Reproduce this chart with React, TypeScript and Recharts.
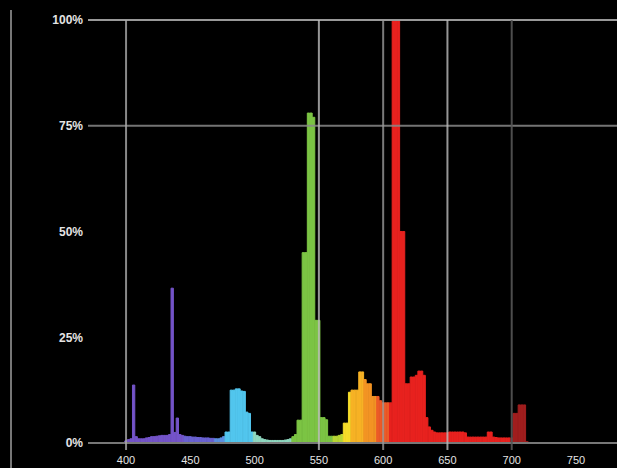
import { BarChart, Bar, Cell, XAxis, YAxis, ReferenceLine } from 'recharts'

// wavelength bins (nm)
const wavelengths = [
  400, 402, 404, 406, 408, 410, 412, 414, 416, 418,
  420, 422, 424, 426, 428, 430, 432, 434, 436, 438,
  440, 442, 444, 446, 448, 450, 452, 454, 456, 458,
  460, 462, 464, 466, 468, 470, 472, 474, 476, 478,
  480, 482, 484, 486, 488, 490, 492, 494, 496, 498,
  500, 502, 504, 506, 508, 510, 512, 514, 516, 518,
  520, 522, 524, 526, 528, 530, 532, 534, 536, 538,
  540, 542, 544, 546, 548, 550, 552, 554, 556, 558,
  560, 562, 564, 566, 568, 570, 572, 574, 576, 578,
  580, 582, 584, 586, 588, 590, 592, 594, 596, 598,
  600, 602, 604, 606, 608, 610, 612, 614, 616, 618,
  620, 622, 624, 626, 628, 630, 632, 634, 636, 638,
  640, 642, 644, 646, 648, 650, 652, 654, 656, 658,
  660, 662, 664, 666, 668, 670, 672, 674, 676, 678,
  680, 682, 684, 686, 688, 690, 692, 694, 696, 698,
  700, 702, 704, 706, 708, 710, 712,
]

// relative intensity (%)
const intensity = [
  0.5, 0.8, 1.0, 13.7, 1.5, 1.0, 1.0, 1.0, 1.2, 1.3,
  1.5, 1.5, 1.6, 1.7, 1.8, 1.8, 1.8, 2.0, 36.6, 2.5,
  5.9, 2.0, 1.8, 1.6, 1.5, 1.5, 1.4, 1.4, 1.3, 1.3,
  1.2, 1.2, 1.2, 1.1, 1.1, 1.0, 1.0, 1.2, 1.5, 2.6,
  2.6, 12.5, 12.5, 12.8, 12.8, 12.3, 12.2, 7.3, 7.0, 2.6,
  2.6, 1.8, 1.5, 1.0, 0.8, 0.7, 0.6, 0.6, 0.6, 0.6,
  0.6, 0.6, 0.7, 0.8, 1.0, 1.5, 2.0, 5.4, 5.4, 45,
  45, 78, 78, 77, 29, 29, 6, 6, 5.5, 1.6,
  1.6, 1.6, 1.6, 1.8, 2.0, 4.7, 4.7, 12.0, 12.5, 12.5,
  12.5, 16.8, 16.8, 15.0, 14.0, 14.0, 11.0, 11.0, 11.0, 10.0,
  9.5, 9.5, 9.5, 9.5, 100, 100, 100, 50, 50, 14,
  14, 15.6, 15.6, 16, 17, 17, 16, 6, 3.8, 3.0,
  2.6, 2.4, 2.4, 2.4, 2.4, 2.4, 2.6, 2.6, 2.6, 2.6,
  2.6, 2.6, 2.4, 1.4, 1.4, 1.4, 1.4, 1.4, 1.4, 1.4,
  1.4, 2.6, 2.6, 1.4, 1.3, 1.2, 1.2, 1.2, 1.2, 1.2,
  1.2, 7, 7, 9, 9, 9, 0.3,
]

const xTicks = [400, 450, 500, 550, 600, 650, 700, 750]
const yTicks = [0, 25, 50, 75, 100]

const data = wavelengths.map((nm, i) => ({ nm, value: intensity[i] }))

function colorFor(nm: number) {
  if (nm < 446) return '#7454c9'
  if (nm < 470) return '#6a62d2'
  if (nm < 478) return '#5b8fe0'
  if (nm < 500) return '#52c6ee'
  if (nm < 530) return '#8fd8c0'
  if (nm < 562) return '#7cc444'
  if (nm < 570) return '#b8d634'
  if (nm < 576) return '#f6dc2a'
  if (nm < 586) return '#f7b225'
  if (nm < 596) return '#f39424'
  if (nm < 606) return '#ec5a28'
  if (nm < 700) return '#e8221f'
  return '#a01e1e'
}

const tickStyle = { fill: '#e4e4e4', fontSize: 11, fontFamily: 'Liberation Sans, Arial, sans-serif' }

export default function App() {
  return (
    <div style={{ position: 'absolute', left: 0, top: 0, width: 617, height: 468, background: '#000' }}>
      {/* left frame line */}
      <div style={{ position: 'absolute', left: 10, top: 10, width: 2, height: 458, background: '#777' }} />
      <BarChart width={617} height={468} data={data} margin={{ top: 20, right: 0, bottom: 0, left: 0 }}>
        <XAxis
          dataKey="nm"
          type="number"
          domain={[370.4, 781.9]}
          ticks={xTicks}
          allowDataOverflow
          axisLine={false}
          tickLine={false}
          tickSize={4}
          tickMargin={2}
          height={18}
          tick={tickStyle}
        />
        <YAxis
          type="number"
          domain={[-1.655, 100]}
          ticks={yTicks}
          allowDataOverflow
          axisLine={false}
          tickLine={false}
          tickSize={4}
          tickMargin={1}
          width={88}
          tickFormatter={(v) => `${v}%`}
          tick={{ ...tickStyle, fontSize: 12, fontWeight: 'bold' }}
        />
        <Bar dataKey="value" barSize={3} isAnimationActive={false}>
          {data.map((d, i) => (
            <Cell key={`c-${i}`} fill={colorFor(d.nm)} stroke={colorFor(d.nm)} strokeWidth={1} />
          ))}
        </Bar>
        <ReferenceLine y={0} stroke="#777" strokeWidth={2} />
        <ReferenceLine y={75} stroke="#888" strokeWidth={2} strokeOpacity={0.85} />
        <ReferenceLine y={100} stroke="#999" strokeWidth={2} />
        <ReferenceLine x={400} stroke="#aaa" strokeWidth={2} strokeOpacity={0.8} />
        <ReferenceLine x={550} stroke="#bbb" strokeWidth={2} strokeOpacity={0.8} />
        <ReferenceLine x={600} stroke="#999" strokeWidth={2} strokeOpacity={0.8} />
        <ReferenceLine x={650} stroke="#bbb" strokeWidth={2} strokeOpacity={0.8} />
        <ReferenceLine x={700} stroke="#555" strokeWidth={2} strokeOpacity={0.9} />
      </BarChart>
    </div>
  )
}
